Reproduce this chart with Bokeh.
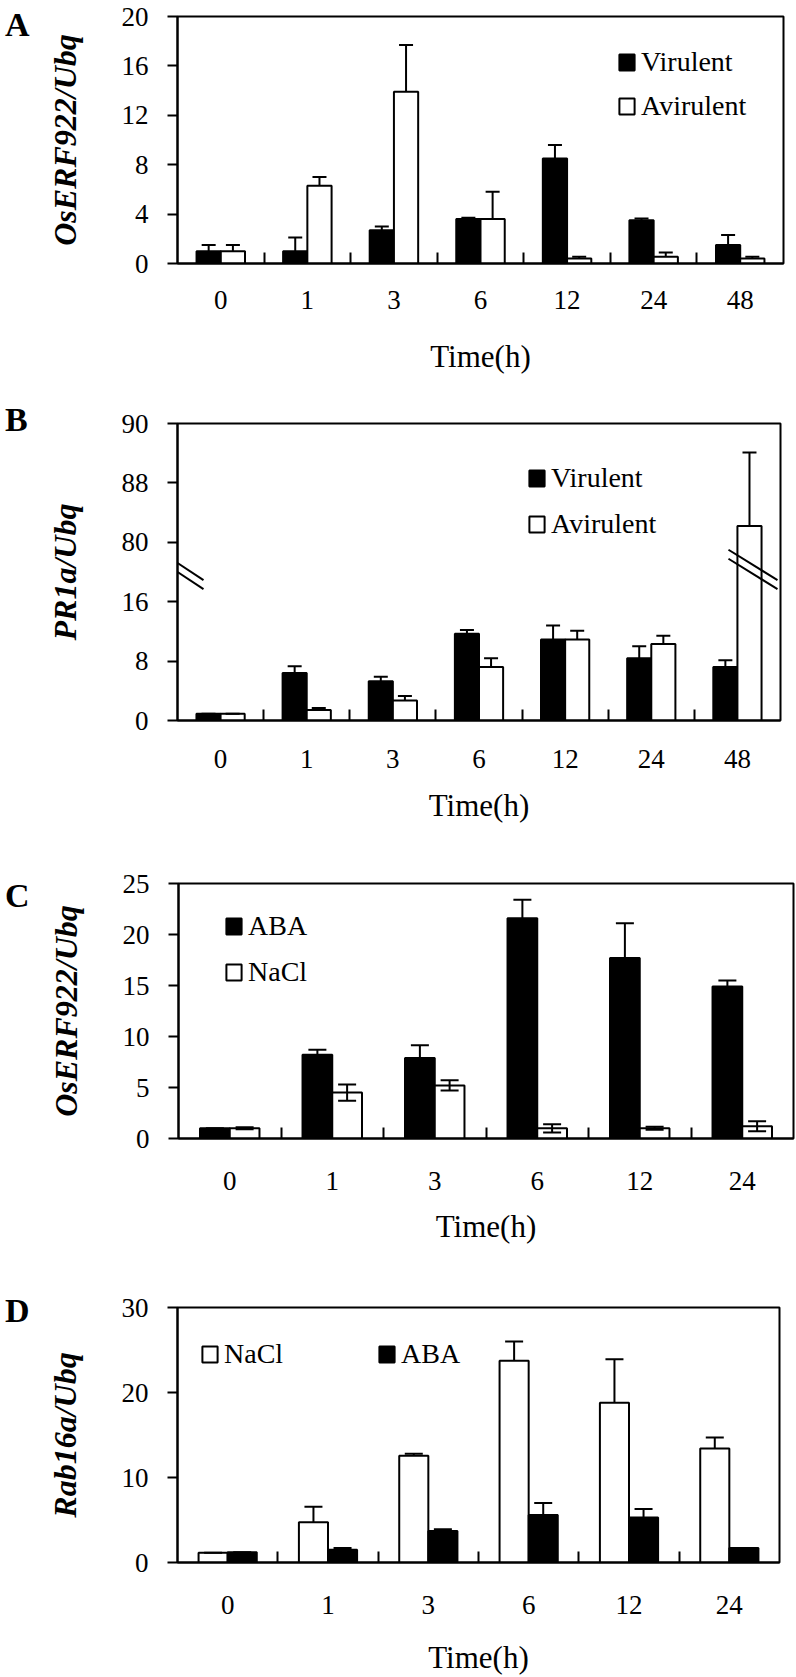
from bokeh.plotting import figure
from bokeh.models import (ColumnDataSource, Whisker, TeeHead, FixedTicker, Legend,
                          LegendItem, Arrow, Range1d, Div)
from bokeh.layouts import column, row
from bokeh.embed import file_html
from bokeh.resources import INLINE

SERIF = "Liberation Serif"

# ---------------- data ----------------
times_ab = ["0", "1", "3", "6", "12", "24", "48"]
times_cd = ["0", "1", "3", "6", "12", "24"]

# Panel A: OsERF922/Ubq, Virulent vs Avirulent
a_vir = [1.0, 1.0, 2.7, 3.6, 8.5, 3.5, 1.5]
a_vir_err = [0.5, 1.1, 0.3, 0.1, 1.1, 0.15, 0.8]
a_avir = [1.0, 6.3, 13.9, 3.6, 0.4, 0.55, 0.4]
a_avir_err = [0.5, 0.7, 3.8, 2.2, 0.15, 0.35, 0.15]
a_ticks = [0, 4, 8, 12, 16, 20]

# Panel B: PR1a/Ubq (broken axis)
b_vir = [0.9, 6.4, 5.3, 11.7, 10.9, 8.4, 7.2]
b_vir_err = [0.0, 0.9, 0.6, 0.5, 1.9, 1.6, 0.9]
b_avir = [0.9, 1.4, 2.7, 7.2, 10.9, 10.3, 82.2]
b_avir_err = [0.0, 0.3, 0.6, 1.2, 1.2, 1.1, 9.9]
b_ticks = [0, 8, 16, 24, 32, 40]
b_tick_labels = ["0", "8", "16", "80", "88", "90"]

# Panel C: OsERF922/Ubq, ABA vs NaCl
c_aba = [1.0, 8.2, 7.9, 21.6, 17.7, 14.9]
c_aba_err = [0.0, 0.5, 1.25, 1.8, 3.4, 0.6]
c_nacl = [1.0, 4.5, 5.2, 1.0, 1.0, 1.2]
c_nacl_err = [0.1, 0.8, 0.5, 0.4, 0.15, 0.5]
c_ticks = [0, 5, 10, 15, 20, 25]

# Panel D: Rab16a/Ubq, NaCl vs ABA
d_nacl = [1.15, 4.75, 12.55, 23.75, 18.8, 13.4]
d_nacl_err = [0.0, 1.8, 0.25, 2.25, 5.1, 1.3]
d_aba = [1.2, 1.5, 3.7, 5.6, 5.3, 1.7]
d_aba_err = [0.0, 0.2, 0.2, 1.4, 1.0, 0.0]
d_ticks = [0, 10, 20, 30]

BREAK_LOW, BREAK_SHIFT = 40.0, 56.0


def brk(v):
    """display value on the broken axis of panel B"""
    return v if v < BREAK_LOW else v - BREAK_SHIFT


PAGE_W = 796
LETTER_W = 40
FIG_W = PAGE_W - LETTER_W


def make_panel(letter, times, series, ymax, yticks, ylabels, ylabel,
               height, b_left, frame_w, b_top, frame_h, bar_w, cap,
               lab_standoff, title_standoff, legend_loc, legend_orient,
               legend_spacing, letter_pad, transform=None, two_sided=()):
    n = len(times)
    left = b_left - LETTER_W
    p = figure(width=FIG_W, height=height, x_range=Range1d(0, n),
               y_range=Range1d(0, ymax), output_backend="svg",
               toolbar_location=None, min_border_left=left,
               min_border_right=FIG_W - left - frame_w, min_border_top=b_top,
               min_border_bottom=height - b_top - frame_h,
               background_fill_color="white", border_fill_color="white")
    p.xgrid.visible = False
    p.ygrid.visible = False
    p.outline_line_color = "black"
    p.outline_line_width = 2
    p.outline_line_alpha = 1

    items = []
    k = len(series)
    tr = transform if transform else (lambda v: v)
    for j, (name, vals, errs, color) in enumerate(series):
        off = (j - (k - 1) / 2) * bar_w
        xs = [i + 0.5 + off for i in range(n)]
        tops = [tr(v) for v in vals]
        upper = [tr(v + e) for v, e in zip(vals, errs)]
        lower = [tr(v - e) for v, e in zip(vals, errs)]
        src = ColumnDataSource(dict(x=xs, top=tops))
        r = p.vbar(x="x", top="top", bottom=0, width=bar_w, source=src,
                   fill_color=color, line_color="black", line_width=2)
        items.append(LegendItem(label=name, renderers=[r]))
        both = name in two_sided
        ws = ColumnDataSource(dict(base=xs, lo=(lower if both else tops), hi=upper))
        w = Whisker(source=ws, base="base", lower="lo", upper="hi", dimension="height",
                    line_color="black", line_width=2, level="overlay",
                    upper_head=TeeHead(size=cap, line_width=2, line_color="black"),
                    lower_head=(TeeHead(size=cap, line_width=2, line_color="black")
                                if both else None))
        p.add_layout(w)

    # x axis: labels at group centres, short inward ticks at group boundaries
    xa = p.xaxis[0]
    xa.ticker = FixedTicker(ticks=[i + 0.5 for i in range(n)],
                            minor_ticks=[float(i) for i in range(1, n)])
    xa.major_label_overrides = {i + 0.5: t for i, t in enumerate(times)}
    xa.major_tick_in = 0
    xa.major_tick_out = 0
    xa.minor_tick_in = 11
    xa.minor_tick_out = 0
    xa.minor_tick_line_width = 2
    xa.axis_line_width = 2
    xa.major_label_text_font = SERIF
    xa.major_label_text_font_size = "27px"
    xa.major_label_text_color = "black"
    xa.major_label_standoff = lab_standoff
    xa.axis_label = "Time(h)"
    xa.axis_label_text_font = SERIF
    xa.axis_label_text_font_size = "31px"
    xa.axis_label_text_font_style = "normal"
    xa.axis_label_text_color = "black"
    xa.axis_label_standoff = title_standoff

    ya = p.yaxis[0]
    ya.ticker = FixedTicker(ticks=yticks, minor_ticks=[])
    ya.major_label_overrides = {t: l for t, l in zip(yticks, ylabels)}
    ya.major_tick_in = 0
    ya.major_tick_out = 10
    ya.major_tick_line_width = 2
    ya.minor_tick_in = 0
    ya.minor_tick_out = 0
    ya.axis_line_width = 2
    ya.major_label_text_font = SERIF
    ya.major_label_text_font_size = "27px"
    ya.major_label_text_color = "black"
    ya.major_label_standoff = 19
    ya.axis_label = ylabel
    ya.axis_label_text_font = SERIF
    ya.axis_label_text_font_size = "32px"
    ya.axis_label_text_font_style = "bold italic"
    ya.axis_label_text_color = "black"
    ya.axis_label_standoff = 36

    legend = Legend(items=items, location=legend_loc, orientation=legend_orient,
                    glyph_width=19, glyph_height=20, label_height=22,
                    label_standoff=5, spacing=legend_spacing, padding=0, margin=0,
                    label_text_font=SERIF, label_text_font_size="28px",
                    label_text_color="black", background_fill_alpha=0,
                    border_line_alpha=0)
    p.add_layout(legend)

    # panel letter as real text in a narrow column left of the figure
    span = (f'<span style="display:block; font-family:\'{SERIF}\'; font-size:34px; '
            f'font-weight:bold; line-height:34px; color:black; '
            f'padding-top:{letter_pad}px; padding-left:5px;">{letter}</span>')
    div = Div(text=span, width=LETTER_W, height=height, margin=(0, 0, 0, 0),
              styles={"background": "white", "font-size": "34px"})
    return p, div


# ---------- Panel A ----------
pA, dA = make_panel("A", times_ab,
                    [("Virulent", a_vir, a_vir_err, "black"),
                     ("Avirulent", a_avir, a_avir_err, "white")],
                    20, a_ticks, [str(t) for t in a_ticks],
                    "OsERF922/Ubq", 395, 177, 606, 16, 247, 0.28, 14,
                    27, 27, (440, 141), "vertical", 12, 6)

# ---------- Panel B ----------
fhB, fwB = 297, 603
pB, dB = make_panel("B", times_ab,
                    [("Virulent", b_vir, b_vir_err, "black"),
                     ("Avirulent", b_avir, b_avir_err, "white")],
                    40, b_ticks, b_tick_labels,
                    "PR1a/Ubq", 435, 177, fwB, 28, fhB, 0.28, 14,
                    29, 17, (350, 180), "vertical", 14, 7, transform=brk)
# axis-break marks (two parallel slashes) on the y axis and on the tall bar
for dy in (0.0, -9.0):
    for x0, x1 in ((-20, 26), (551, 600)):
        y0 = 23.0 / 40 * fhB + dy
        y1 = 18.9 / 40 * fhB + dy
        pB.add_layout(Arrow(start=None, end=None, x_start=x0, y_start=y0, x_end=x1, y_end=y1,
                            start_units="screen", end_units="screen",
                            line_color="black", line_width=2))

# ---------- Panel C ----------
pC, dC = make_panel("C", times_cd,
                    [("ABA", c_aba, c_aba_err, "black"),
                     ("NaCl", c_nacl, c_nacl_err, "white")],
                    25, c_ticks, [str(t) for t in c_ticks],
                    "OsERF922/Ubq", 425, 178, 615, 53, 255, 0.29, 18,
                    33, 16, (46, 150), "vertical", 14, 49, two_sided=("NaCl",))

# ---------- Panel D ----------
pD, dD = make_panel("D", times_cd,
                    [("NaCl", d_nacl, d_nacl_err, "white"),
                     ("ABA", d_aba, d_aba_err, "black")],
                    30, d_ticks, [str(t) for t in d_ticks],
                    "Rab16a/Ubq", 422, 177, 602, 52, 259, 0.29, 18,
                    33, 23, (23, 192), "horizontal", 94, 39)

layout = column(row(dA, pA), row(dB, pB), row(dC, pC), row(dD, pD), spacing=0)
open("out.html", "w").write(file_html(layout, INLINE))
